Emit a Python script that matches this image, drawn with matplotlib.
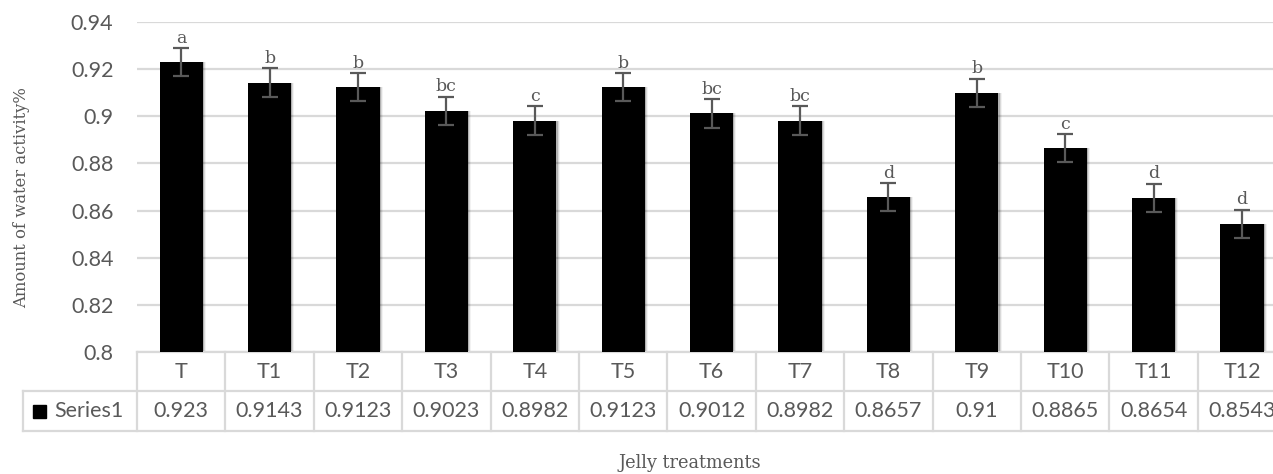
import matplotlib
matplotlib.use("Agg")
import matplotlib.pyplot as plt
from matplotlib.transforms import blended_transform_factory
from matplotlib.patches import Rectangle

# Water activity of jelly treatments
treatments = ["T", "T1", "T2", "T3", "T4", "T5", "T6", "T7", "T8", "T9", "T10", "T11", "T12"]
water_activity = [0.923, 0.9143, 0.9123, 0.9023, 0.8982, 0.9123, 0.9012, 0.8982,
                  0.8657, 0.91, 0.8865, 0.8654, 0.8543]
value_labels = ["0.923", "0.9143", "0.9123", "0.9023", "0.8982", "0.9123", "0.9012",
                "0.8982", "0.8657", "0.91", "0.8865", "0.8654", "0.8543"]
std_err = [0.006] * 13
groups = ["a", "b", "b", "bc", "c", "b", "bc", "bc", "d", "b", "c", "d", "d"]
series_name = "Series1"
y_ticks = [0.8, 0.82, 0.84, 0.86, 0.88, 0.9, 0.92, 0.94]

W, H = 1273, 474
fig = plt.figure(figsize=(W / 100, H / 100), dpi=100)
fig.patch.set_facecolor("white")

ax_left, ax_right, ax_top, ax_bottom = 137, 137 + 13 * 88.4, 22, 352
ax = fig.add_axes([ax_left / W, 1 - ax_bottom / H,
                   (ax_right - ax_left) / W, (ax_bottom - ax_top) / H])

TXT = "#595959"
GRID = "#d9d9d9"
SANS = "Lato"
SERIF = "DejaVu Serif"

x = list(range(len(treatments)))

# soft drop shadow behind bars
for dx, a in [(0.012, 0.18), (0.024, 0.10), (0.036, 0.05)]:
    ax.bar([i + dx for i in x], water_activity, width=0.49, bottom=0,
           color="black", alpha=a, zorder=2, linewidth=0)

ax.bar(x, water_activity, width=0.49, color="black", zorder=3)
ax.errorbar(x, water_activity, yerr=std_err, fmt="none", ecolor=TXT,
            elinewidth=1.6, capsize=6, capthick=1.6, zorder=4)

for i, (v, e, g) in enumerate(zip(water_activity, std_err, groups)):
    ax.annotate(g, (i, v + e), xytext=(0, 1), textcoords="offset points",
                ha="center", va="bottom", fontsize=12.5, color=TXT,
                family=SERIF, zorder=5)

ax.set_xlim(-0.5, 12.5)
ax.set_ylim(0.8, 0.94)
ax.set_yticks(y_ticks)
ax.set_yticklabels([f"{t:g}" for t in y_ticks], family=SANS, fontsize=15.5, color=TXT)
ax.tick_params(axis="y", length=0, pad=17)
ax.set_xticks([])
ax.grid(axis="y", color=GRID, linewidth=1.6, zorder=0)
ax.set_axisbelow(True)
for s in ["left", "right", "top"]:
    ax.spines[s].set_visible(False)
ax.spines["bottom"].set_color(GRID)
ax.spines["bottom"].set_linewidth(1.6)

# data table below the plot
ax_h = ax_bottom - ax_top
def yfrac(px):  # pixels below axes bottom -> axes fraction
    return -px / ax_h

tr = blended_transform_factory(ax.transData, ax.transAxes)
r1, r2 = yfrac(39), yfrac(79)
col_w = 88.4
legend_left = -0.5 - (137 - 23) / col_w
line_kw = dict(color=GRID, linewidth=1.6, transform=tr, clip_on=False, zorder=1)

# horizontal lines
ax.plot([legend_left, 12.5], [r1, r1], **line_kw)
ax.plot([legend_left, 12.5], [r2, r2], **line_kw)
# vertical lines
for i in range(14):
    ax.plot([i - 0.5, i - 0.5], [0, r2], **line_kw)
ax.plot([legend_left, legend_left], [r1, r2], **line_kw)

for i, (t, lab) in enumerate(zip(treatments, value_labels)):
    ax.text(i, (0 + r1) / 2, t, transform=tr, ha="center", va="center",
            family=SANS, fontsize=15.5, color=TXT, clip_on=False)
    ax.text(i, (r1 + r2) / 2, lab, transform=tr, ha="center", va="center",
            family=SANS, fontsize=15.5, color=TXT, clip_on=False)

# legend key in the table
sq_x0 = legend_left + 10 / col_w
ax.add_patch(Rectangle((sq_x0, (r1 + r2) / 2 - 6.5 / ax_h), 13 / col_w, 13 / ax_h,
                       transform=tr, color="black", clip_on=False))
ax.text(legend_left + 31 / col_w, (r1 + r2) / 2, series_name, transform=tr,
        ha="left", va="center", family=SANS, fontsize=15.5, color=TXT, clip_on=False)

fig.text(22 / W, 1 - 198 / H, "Amount of water activity%", rotation=90,
         ha="center", va="center", family=SERIF, fontsize=11.8, color=TXT)
fig.text(690 / W, 1 - 463 / H, "Jelly treatments", ha="center", va="center",
         family=SERIF, fontsize=12.8, color=TXT)

fig.savefig("out.png", dpi=100, facecolor="white")
